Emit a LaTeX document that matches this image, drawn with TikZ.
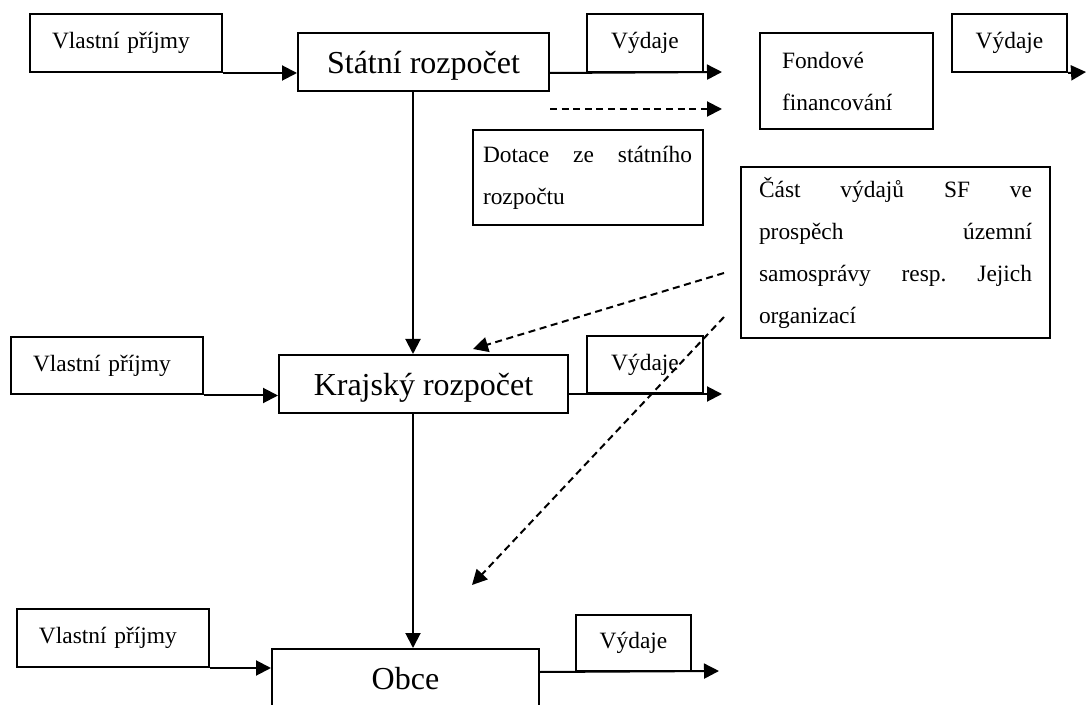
\documentclass[tikz,border=0pt]{standalone}
\usepackage{fontspec}
\setmainfont{Liberation Serif}
\usetikzlibrary{arrows.meta,positioning,calc}
\newcommand{\boxfont}{\fontsize{11.7pt}{21pt}\selectfont}
\newcommand{\bigboxfont}{\fontsize{16pt}{19pt}\selectfont}

\begin{document}
\begin{tikzpicture}[x=0.5pt, y=-0.5pt, >={Triangle[length=7.5pt,width=7.5pt]}, line width=1pt]
    \tikzset{
        income/.style={draw, rectangle, text width=74pt, align=left, minimum height=29pt, inner xsep=11pt, inner ysep=0pt, font=\boxfont},
        budget/.style={draw, rectangle, minimum height=29pt, inner sep=0pt, text height=15pt, text depth=3.5pt, font=\bigboxfont},
        spend/.style={draw, rectangle, minimum width=58pt, minimum height=29pt, inner sep=0pt, font=\boxfont},
        textbox/.style={draw, rectangle, align=left, inner ysep=0pt, font=\boxfont},
        line/.style={draw, ->},
        dline/.style={draw, ->, dash pattern=on 3.5pt off 2.3pt}
    }
    \clip (0,0) rectangle (1087,705);
    % budgets and their flows
    \node [income] (inc1) at (126,43) {Vlastní příjmy};
    \node [budget, minimum width=125.5pt] (stat) at (423.5,62) {Státní rozpočet};
    \node [spend] (out1) at (645,43) {Výdaje};
    \node [textbox, text width=64.5pt, inner xsep=11pt, minimum height=48pt] (fund) at (846.5,81) {Fondové\\financování};
    \node [spend, minimum width=57.5pt] (out2) at (1009.5,43) {Výdaje};
    \node [textbox, text width=104.5pt, inner xsep=5.25pt, minimum height=47.5pt] (grant) at (587.5,178) {Dotace\hfill ze\hfill státního\\rozpočtu};
    \node [textbox, text width=136.5pt, inner xsep=9pt, minimum height=85.5pt] (sf) at (895.5,252.5) {Část\hfill výdajů\hfill SF\hfill ve\\prospěch\hfill územní\\samosprávy\hfill resp.\hfill Jejich\\organizací};
    \node [income, minimum height=28.5pt] (inc2) at (107,366) {Vlastní příjmy};
    \node [budget, minimum width=144.5pt] (kraj) at (423.5,384) {Krajský rozpočet};
    \node [spend, minimum height=28.5pt] (out3) at (645,364.5) {Výdaje};
    \node [income] (inc3) at (113,638) {Vlastní příjmy};
    \node [budget, minimum width=133.5pt] (obce) at (405.5,678) {Obce};
    \node [spend, minimum width=57.5pt, minimum height=28pt] (out4) at (633.5,643) {Výdaje};

    \coordinate (col) at (413,0);
    \coordinate (end1) at (722,72);
    \coordinate (end2) at (1086,72);
    \coordinate (end3) at (722,394);
    \coordinate (end4) at (719,671);
    \coordinate (fundin) at (722,109);
    \coordinate (sfa) at (724,273);
    \coordinate (sfb) at (724,317);
    \coordinate (krajin) at (473,349);
    \coordinate (obcein) at (472,585);

    \path [line] (inc1.south east) -- (inc1.south east -| stat.west);
    \path [line] (out1.south -| stat.east) -- (end1);
    \path [dline] (stat.east |- fundin) -- (fundin);
    \path [line] (out2.south east) -- (end2);
    \path [line] (stat.south -| col) -- (kraj.north -| col);
    \path [line] (inc2.south east) -- (inc2.south east -| kraj.west);
    \path [line] (out3.south -| kraj.east) -- (end3);
    \path [line] (kraj.south -| col) -- (obce.north -| col);
    \path [line] (inc3.south east) -- (inc3.south east -| obce.west);
    \path [line] (out4.south -| obce.east) -- (end4);
    \path [dline] (sfa) -- (krajin);
    \path [dline] (sfb) -- (obcein);
\end{tikzpicture}
\end{document}
